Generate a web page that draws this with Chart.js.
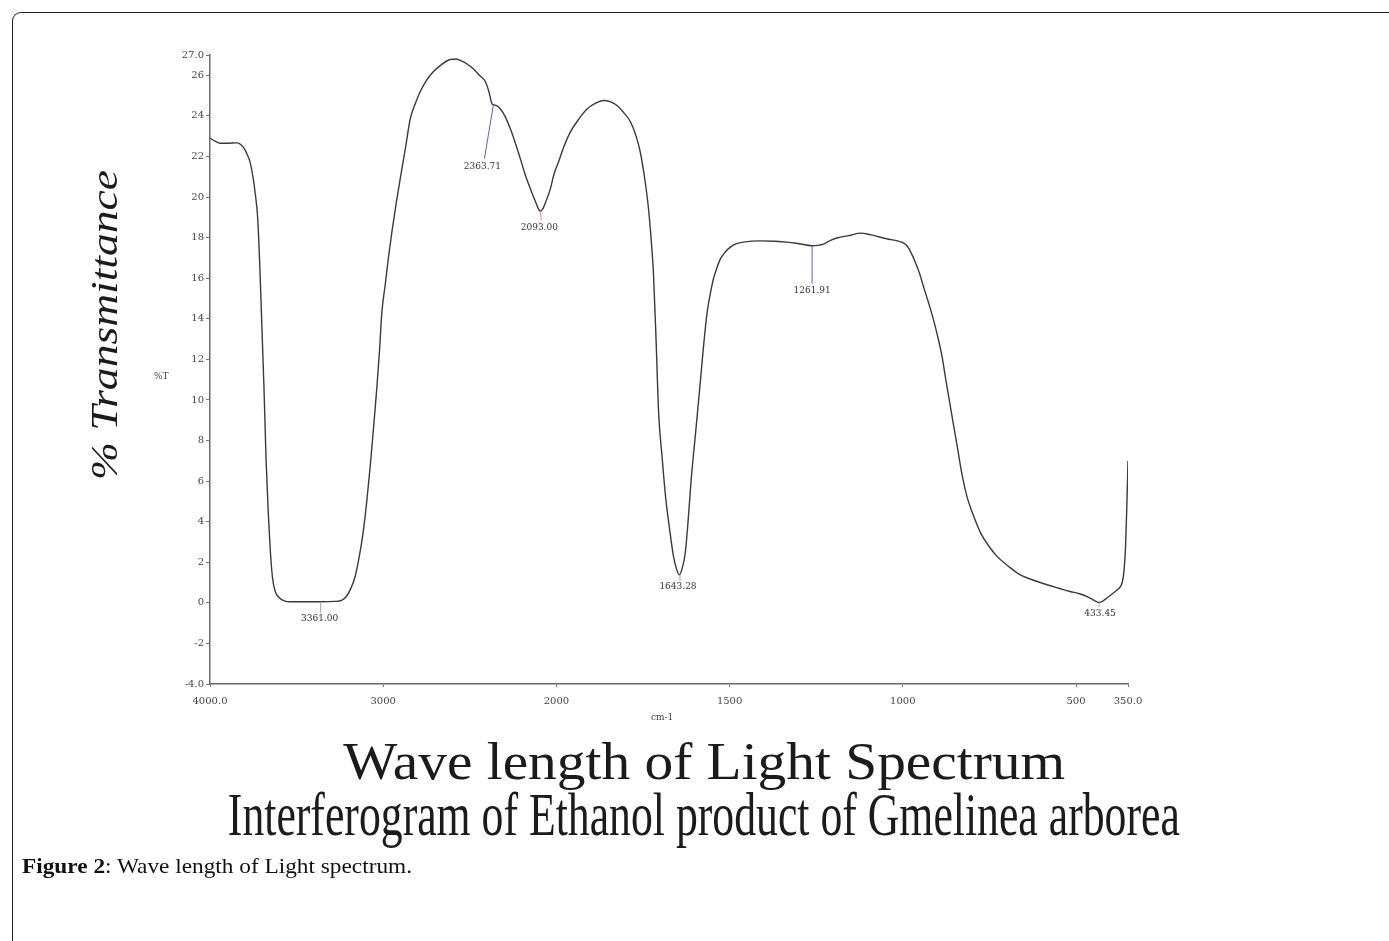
<!DOCTYPE html>
<html><head><meta charset="utf-8">
<script src="https://cdn.jsdelivr.net/npm/chart.js@4.4.1/dist/chart.umd.min.js"></script>
<style>
html,body{margin:0;padding:0;background:#fff;width:1389px;height:941px;overflow:hidden;}
#wrap{position:relative;width:1389px;height:941px;}
#c{position:absolute;left:0;top:0;}
.frame{position:absolute;left:12px;top:12px;width:1420px;height:980px;border-top:1.5px solid #222;border-left:1.5px solid #222;border-top-left-radius:9px;box-sizing:border-box;}
.t{position:absolute;white-space:nowrap;color:#1b1b1b;font-family:"Liberation Serif","Times New Roman",serif;line-height:1;transform-origin:50% 50%;}
.small{position:absolute;white-space:nowrap;color:#444;font-family:"DejaVu Serif",serif;font-size:9px;line-height:1;}
</style></head>
<body><div id="wrap">
<canvas id="c" width="1389" height="941"></canvas>
<div class="frame"></div>
<div class="small" id="pt" style="left:154px;top:372px;">%T</div>
<div class="small" id="cm" style="left:651px;top:713px;">cm-1</div>
<div class="t" id="ytitle" style="font-size:38px;font-style:italic;">% Transmittance</div>
<div class="t" id="l1" style="font-size:52px;">Wave length of Light Spectrum</div>
<div class="t" id="l2" style="font-size:62px;">Interferogram of Ethanol product of Gmelinea arborea</div>
<div class="t" id="cap" style="font-size:21px;color:#111;"><b>Figure 2</b>: Wave length of Light spectrum.</div>
</div>
<script>
// ---- data ----
const wavenumbers = [4000,3970,3942,3900,3846,3809,3785,3769,3752,3740,3725,3712,3700,3688,3676,3664,3652,3640,3625,3600,3570,3540,3450,3361,3280,3240,3210,3185,3162,3140,3116,3095,3075,3055,3036,3020,3008,2988,2970,2950,2925,2902,2870,2844,2815,2786,2750,2711,2660,2613,2580,2555,2520,2480,2445,2410,2390,2372,2363.71,2345,2324,2295,2266,2237,2208,2180,2150,2120,2100,2093,2080,2060,2035,2015,1994,1978,1960,1935,1911,1888,1864,1845,1825,1805,1786,1770,1758,1745,1734,1726,1720,1712,1705,1695,1685,1673,1662,1652,1645,1637,1628,1620,1611,1597,1584,1575,1565,1555,1547,1537,1527,1512,1498,1480,1460,1411,1370,1334,1300,1262,1245,1229,1210,1190,1155,1122,1095,1065,1040,1016,1000,988,976,964,952,941,926,912,899,887,875,863,853,843,830,815,795,776,752,728,695,661,620,584,550,517,490,468,450,433.45,420,410,395,381,372,367,362,357,353,350];
const transmittance = [22.9,22.75,22.65,22.65,22.67,22.47,22.1,21.73,21.0,20.25,19.0,16.5,13.5,10.5,7.0,4.5,2.6,1.3,0.6,0.25,0.1,0.05,0.05,0.05,0.07,0.12,0.35,0.75,1.3,2.2,3.46,5.0,6.73,8.7,10.68,12.6,14.3,15.7,17.0,18.27,19.7,20.89,22.5,23.85,24.6,25.2,25.75,26.17,26.55,26.78,26.8,26.73,26.58,26.32,26.0,25.68,25.2,24.6,24.55,24.5,24.35,23.95,23.36,22.65,21.88,21.1,20.4,19.75,19.35,19.3,19.4,19.8,20.4,21.1,21.73,22.5,23.2,23.85,24.35,24.62,24.76,24.7,24.51,24.15,23.7,23.0,22.22,20.9,19.4,17.8,16.3,12.8,9.4,7.2,5.25,3.6,2.29,1.6,1.38,1.7,2.47,4.0,6.07,8.6,11.0,12.7,14.3,15.3,15.95,16.5,16.94,17.3,17.53,17.7,17.78,17.84,17.82,17.78,17.7,17.6,17.62,17.68,17.85,17.98,18.1,18.22,18.15,18.02,17.92,17.84,17.75,17.6,17.25,16.79,16.25,15.62,14.8,13.98,13.1,12.16,10.9,9.69,8.7,7.72,6.4,5.25,4.25,3.46,2.8,2.29,1.8,1.38,1.1,0.89,0.72,0.56,0.45,0.31,0.15,0.02,0.12,0.25,0.45,0.64,0.8,0.99,1.5,2.78,5.0,7.0];
const xTickValues = [4000,3000,2000,1500,1000,500,350];
const xTickLabels = ['4000.0','3000','2000','1500','1000','500','350.0'];
const yTickValues = [-4,-2,0,2,4,6,8,10,12,14,16,18,20,22,24,26,27];
const yTickLabels = ['-4.0','-2','0','2','4','6','8','10','12','14','16','18','20','22','24','26','27.0'];
const peakWavenumbers = [3361.00,2363.71,2093.00,1643.28,1261.91,433.45];
const peakTransmittance = [0.05,24.55,19.3,1.38,17.6,0.02];
const peakLabels = ['3361.00','2363.71','2093.00','1643.28','1261.91','433.45'];

// ---- styles (not data) ----
const peakStyle = [
  {color:'#e08a8a', line:[0,11], text:[-1,17]},
  {color:'#5a60c8', line:[-9,54], text:[-11,62]},
  {color:'#e08a8a', line:[1,9], text:[-1,16]},
  {color:'#e08a8a', line:[0,6], text:[-2,12]},
  {color:'#5a60c8', line:[0,38], text:[0,45]},
  {color:'#e08a8a', line:[0,5], text:[1,11]}
];

// wavenumber axis compressed above 2000 cm-1 (instrument scale change)
function fwd(w){ return w > 2000 ? 2000 + (w - 2000) / 2 : w; }

const peakPlugin = {
  id:'peaks',
  afterDatasetsDraw(chart){
    const {ctx, scales:{x, y}} = chart;
    ctx.save();
    ctx.font = '9px "DejaVu Serif", serif';
    ctx.textAlign = 'center';
    ctx.textBaseline = 'middle';
    peakWavenumbers.forEach((w,i)=>{
      const px = x.getPixelForValue(fwd(w));
      const py = y.getPixelForValue(peakTransmittance[i]);
      const st = peakStyle[i];
      ctx.strokeStyle = st.color;
      ctx.lineWidth = 1;
      ctx.beginPath();
      ctx.moveTo(px, py);
      ctx.lineTo(px + st.line[0], py + st.line[1]);
      ctx.stroke();
      ctx.fillStyle = '#333';
      ctx.fillText(peakLabels[i], px + st.text[0], py + st.text[1]);
    });
    ctx.restore();
  }
};

new Chart(document.getElementById('c'), {
  type:'line',
  data:{ datasets:[{
    data: wavenumbers.map((w,i)=>({x: fwd(w), y: transmittance[i]})),
    borderColor:'#3a3a3a', borderWidth:1.4, pointRadius:0, fill:false,
    cubicInterpolationMode:'monotone'
  }]},
  options:{
    responsive:false, animation:false,
    layout:{padding:{left:170, right:261, top:55, bottom:229}},
    plugins:{legend:{display:false}, tooltip:{enabled:false}},
    scales:{
      x:{
        type:'linear', reverse:true, min:fwd(350), max:fwd(4000),
        afterBuildTicks(s){ s.ticks = xTickValues.map(v=>({value: fwd(v)})); },
        afterFit(s){ s.height = 28; },
        ticks:{autoSkip:false, maxRotation:0, padding:8, color:'#444',
          font:{family:'"DejaVu Serif", serif', size:10},
          callback:(v,i)=>xTickLabels[i]},
        grid:{display:true, drawOnChartArea:false, drawTicks:true, tickLength:3, color:'#777', lineWidth:1},
        border:{display:true, color:'#6a6a6a', width:1.5}
      },
      y:{
        type:'linear', min:-4, max:27,
        afterBuildTicks(s){ s.ticks = yTickValues.map(v=>({value:v})); },
        afterFit(s){ s.width = 40; },
        ticks:{autoSkip:false, padding:2, color:'#444',
          font:{family:'"DejaVu Serif", serif', size:10},
          callback:(v,i)=>yTickLabels[i]},
        grid:{display:true, drawOnChartArea:false, drawTicks:true, tickLength:4, color:'#777', lineWidth:1},
        border:{display:true, color:'#6a6a6a', width:1.5}
      }
    }
  },
  plugins:[peakPlugin]
});

// ---- place big texts ----
function place(id, cx, baseline, targetW, rotate){
  const el = document.getElementById(id);
  const r = el.getBoundingClientRect();
  const fs = parseFloat(getComputedStyle(el).fontSize);
  const s = targetW / r.width;
  if(!rotate){
    el.style.left = (cx - r.width/2) + 'px';
    el.style.top = (baseline - 0.8375*fs) + 'px';
    el.style.transform = 'scaleX(' + s + ')';
  } else {
    const centerX = baseline - 0.3375*fs;
    el.style.left = (centerX - r.width/2) + 'px';
    el.style.top = (cx - r.height/2) + 'px';
    el.style.transform = 'rotate(-90deg) scaleX(' + s + ')';
  }
}
place('l1', 704, 780, 722, false);
place('l2', 704, 835, 952, false);
place('ytitle', 325, 117, 310, true);
(function(){
  const el = document.getElementById('cap');
  const r = el.getBoundingClientRect();
  const s = 390 / r.width;
  el.style.transformOrigin = '0 0';
  el.style.left = '22px';
  el.style.top = (874 - 0.8375*21) + 'px';
  el.style.transform = 'scaleX(' + s + ')';
})();
</script>
</body></html>
